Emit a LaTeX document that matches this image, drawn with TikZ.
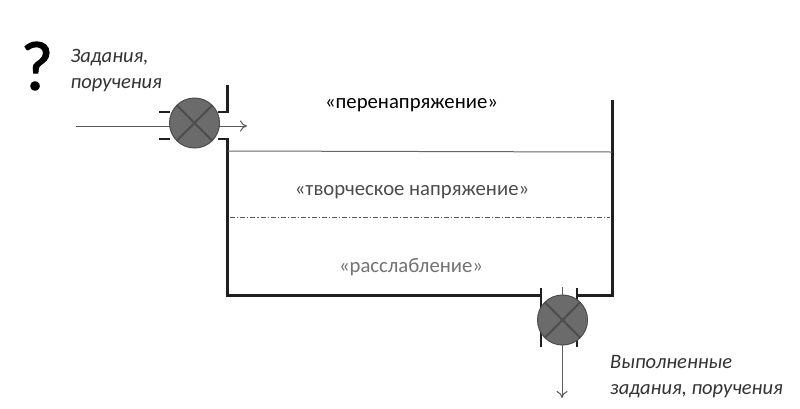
\documentclass[tikz,border=0pt]{standalone}
\usepackage{fontspec}
\setmainfont{Carlito}
\newfontfamily\qfont[FakeBold=1.5]{Carlito}
\usetikzlibrary{arrows.meta,shapes.misc}
\definecolor{valvefill}{gray}{0.42}
\definecolor{valveline}{gray}{0.30}
\tikzset{
  wall/.style={line width=2.6pt,draw=black!88,line cap=butt,line join=miter},
  flow/.style={line width=1pt,draw=black!65,-{To[length=7pt,width=11pt]}},
  valve/.style={circle,cross out,draw=valveline,line width=2pt,minimum size=33pt,inner sep=0pt},
  valvedisc/.style={circle,fill=valvefill,draw=valveline,line width=1pt,minimum size=50pt,inner sep=0pt},
  zone/.style={font=\fontsize{20.7}{24}\selectfont,anchor=center,inner sep=0pt},
  note/.style={font=\itshape\fontsize{20.5}{26}\selectfont,align=left,anchor=west,inner sep=0pt,text=black!80},
}
\begin{document}
\begin{tikzpicture}[x=1pt,y=-1pt]
\useasboundingbox (0,0) rectangle (800,408);
\fill[white] (0,0) rectangle (800,408);
% flows behind valves
\coordinate (inStart) at (76,126);
\coordinate (inEnd) at (247,126);
\coordinate (outStart) at (562,287);
\coordinate (outEnd) at (562,398);
\draw[flow] (inStart) -- (inEnd);
\draw[flow] (outStart) -- (outEnd);
% tank walls
\draw[wall] (227.5,85) -- (227.5,112) -- (218,112);
\draw[wall] (159,112) -- (170,112);
\draw[wall] (159,139) -- (170,139);
\draw[wall] (218,139) -- (227.5,139) -- (227.5,295.5) -- (541,295.5);
\draw[wall] (577,295.5) -- (612.5,295.5) -- (612.5,100);
\draw[wall] (541,288) -- (541,347);
\draw[wall] (577,288) -- (577,347);
% levels
\coordinate (levelL) at (228,151);
\coordinate (levelR) at (612,152);
\coordinate (midL) at (230,217);
\coordinate (midR) at (610,217);
\draw[line width=1pt,draw=black!60] (levelL) -- (levelR);
\draw[line width=1pt,draw=black!65,dash pattern=on 5pt off 2pt on 1.2pt off 2pt] (midL) -- (midR);
% valves
\node[valvedisc] (v1disc) at (194.5,123) {};
\node[valve] (v1) at (194.5,123) {};
\node[valvedisc] (v2disc) at (562.5,320) {};
\node[valve] (v2) at (562.5,320) {};
% texts
\node[font=\qfont\fontsize{70}{72}\selectfont,inner sep=0pt] (q) at (37,66) {?};
\node[note] (tasks) at (70.5,71) {Задания,\\поручения};
\node[note] (done) at (610,376.5) {Выполненные\\задания, поручения};
\node[zone,text=black] (over) at (411.5,105) {«перенапряжение»};
\node[zone,text=black!70] (creative) at (412,192.5) {«творческое напряжение»};
\node[zone,text=black!55] (relax) at (411,267.5) {«расслабление»};
\end{tikzpicture}
\end{document}
